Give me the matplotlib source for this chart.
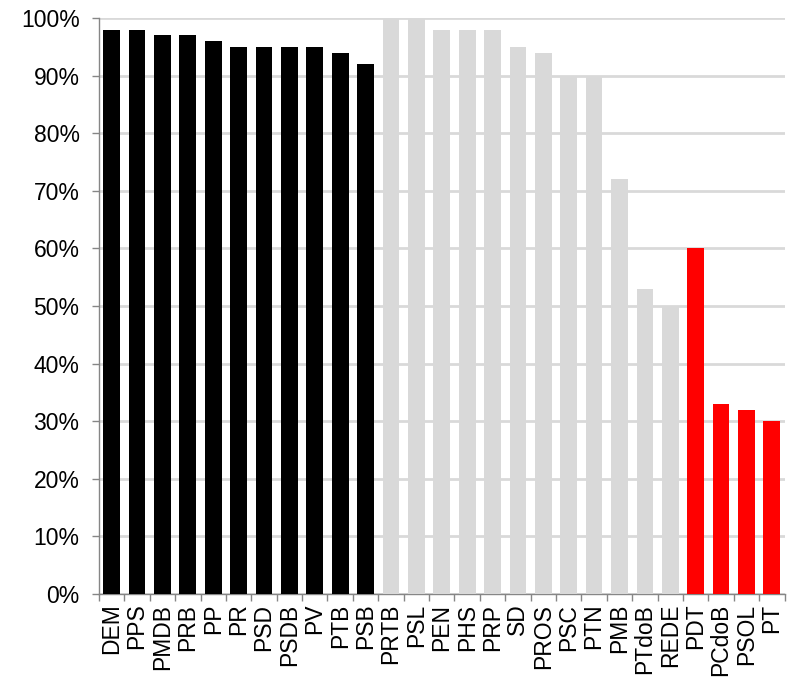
import matplotlib

matplotlib.use("Agg")
import matplotlib.pyplot as plt
from matplotlib.ticker import FixedLocator, PercentFormatter

# party shares, grouped by colour
parties = ["DEM", "PPS", "PMDB", "PRB", "PP", "PR", "PSD", "PSDB", "PV", "PTB", "PSB",
           "PRTB", "PSL", "PEN", "PHS", "PRP", "SD", "PROS", "PSC", "PTN", "PMB", "PTdoB", "REDE",
           "PDT", "PCdoB", "PSOL", "PT"]
values = [98, 98, 97, 97, 96, 95, 95, 95, 95, 94, 92,
          100, 100, 98, 98, 98, 95, 94, 90, 90, 72, 53, 50,
          60, 33, 32, 30]
groups = ["black"] * 11 + ["grey"] * 12 + ["red"] * 4

group_colors = {"black": "#000000", "grey": "#d9d9d9", "red": "#ff0000"}

plt.rcParams["font.family"] = ["Liberation Sans", "DejaVu Sans"]

fig = plt.figure(figsize=(7.88, 6.82), dpi=100)
ax = fig.add_axes([0.1256, 0.129, 0.870, 0.8446])

x = range(len(parties))
ax.bar(x, values, width=0.66, color=[group_colors[g] for g in groups], zorder=3)

ax.set_xlim(-0.5, len(parties) - 0.5)
ax.set_ylim(0, 100)
ax.set_yticks(range(0, 101, 10))
ax.yaxis.set_major_formatter(PercentFormatter(decimals=0))
ax.grid(axis="y", color="#d9d9d9", linewidth=2, zorder=0)

ax.set_xticks(list(x))
ax.set_xticklabels(parties, rotation=90)
ax.xaxis.set_minor_locator(FixedLocator([i - 0.5 for i in range(len(parties) + 1)]))
ax.tick_params(axis="x", which="major", length=0, pad=7, labelsize=16.5)
ax.tick_params(axis="x", which="minor", length=5, width=1, color="#868686")
ax.tick_params(axis="y", length=5, width=1, color="#868686", labelsize=16.5, pad=9)

for side in ["top", "right"]:
    ax.spines[side].set_visible(False)
for side in ["left", "bottom"]:
    ax.spines[side].set_color("#868686")
    ax.spines[side].set_linewidth(1)

fig.savefig("out.png", dpi=100)
